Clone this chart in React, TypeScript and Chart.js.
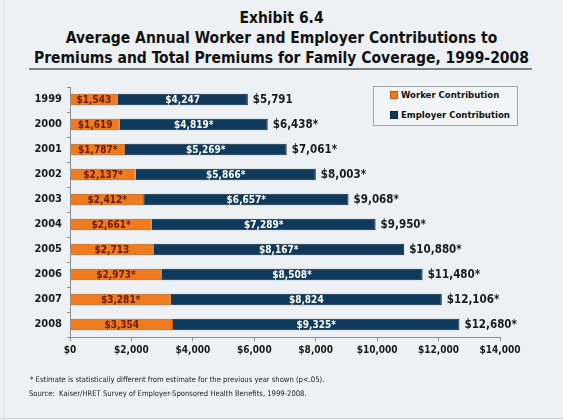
import React, { useEffect, useRef } from "react";
import { Chart, registerables } from "chart.js";

Chart.register(...registerables);

const years = ["1999", "2000", "2001", "2002", "2003", "2004", "2005", "2006", "2007", "2008"];
const worker = [1543, 1619, 1787, 2137, 2412, 2661, 2713, 2973, 3281, 3354];
const employer = [4247, 4819, 5269, 5866, 6657, 7289, 8167, 8508, 8824, 9325];
const total = [5791, 6438, 7061, 8003, 9068, 9950, 10880, 11480, 12106, 12680];
const workerSig = [false, false, true, true, true, true, false, true, true, false];
const employerSig = [false, true, true, true, true, true, true, true, false, true];
const totalSig = [false, true, true, true, true, true, true, true, true, true];
const xTicks = [0, 2000, 4000, 6000, 8000, 10000, 12000, 14000];

const FONT = '"DejaVu Sans Condensed", "DejaVu Sans", sans-serif';
const ORANGE = "#f07a1e";
const ORANGE_EDGE = "#b8560e";
const NAVY = "#0f3a5c";
const NAVY_EDGE = "#0a2740";
const BG = "#edf1f3";

const money = (v: number) => "$" + v.toLocaleString("en-US");

const labelPlugin = {
  id: "barLabels",
  afterDatasetsDraw(chart: any) {
    const ctx = chart.ctx;
    ctx.save();
    ctx.textBaseline = "middle";
    const m0 = chart.getDatasetMeta(0);
    const m1 = chart.getDatasetMeta(1);
    m0.data.forEach((bar: any, i: number) => {
      ctx.font = `bold 10px ${FONT}`;
      ctx.textAlign = "center";
      ctx.fillStyle = "#6a1c00";
      ctx.fillText(money(worker[i]) + (workerSig[i] ? "*" : ""), (bar.base + bar.x) / 2, bar.y + 0.5);
    });
    m1.data.forEach((bar: any, i: number) => {
      ctx.font = `bold 10px ${FONT}`;
      ctx.textAlign = "center";
      ctx.fillStyle = "#ffffff";
      ctx.fillText(money(employer[i]) + (employerSig[i] ? "*" : ""), (bar.base + bar.x) / 2, bar.y + 0.5);
      ctx.font = `bold 11.5px ${FONT}`;
      ctx.textAlign = "left";
      ctx.fillStyle = "#1a1a1a";
      ctx.fillText(money(total[i]) + (totalSig[i] ? "*" : ""), bar.x + 5, bar.y + 0.5);
    });
    ctx.restore();
  },
};

export default function App() {
  const ref = useRef<HTMLCanvasElement>(null);
  useEffect(() => {
    document.body.style.margin = "0";
    const chart = new Chart(ref.current!, {
      type: "bar",
      data: {
        labels: years,
        datasets: [
          {
            label: "Worker Contribution",
            data: worker,
            backgroundColor: ORANGE,
            borderColor: ORANGE_EDGE,
            borderWidth: 1,
            barPercentage: 0.46,
            categoryPercentage: 1,
          },
          {
            label: "Employer Contribution",
            data: employer,
            backgroundColor: NAVY,
            borderColor: NAVY_EDGE,
            borderWidth: 1,
            barPercentage: 0.46,
            categoryPercentage: 1,
          },
        ],
      },
      options: {
        indexAxis: "y",
        responsive: false,
        animation: false,
        layout: { padding: { left: 0, right: 63, top: 87, bottom: 0 } },
        plugins: { legend: { display: false }, tooltip: { enabled: false }, title: { display: false } },
        scales: {
          x: {
            stacked: true,
            min: 0,
            max: 14000,
            afterFit: (s: any) => {
              s.height = 83;
            },
            afterBuildTicks: (s: any) => {
              s.ticks = xTicks.map((v) => ({ value: v }));
            },
            grid: { drawOnChartArea: false, tickLength: 4, color: "#8a8f94" },
            border: { color: "#8a8f94" },
            ticks: {
              padding: 3,
              color: "#1a1a1a",
              font: { family: FONT, size: 10, weight: "bold" },
              callback: (v: any) => money(Number(v)),
            },
          },
          y: {
            stacked: true,
            afterFit: (s: any) => {
              s.width = 70;
            },
            grid: { drawOnChartArea: false, tickLength: 3, color: "#8a8f94", offset: true },
            border: { color: "#8a8f94" },
            ticks: {
              padding: 5,
              color: "#1a1a1a",
              font: { family: FONT, size: 11, weight: "bold" },
            },
          },
        },
      },
      plugins: [labelPlugin],
    } as any);
    return () => chart.destroy();
  }, []);

  const legendItem = (color: string, edge: string, text: string, top: number) => (
    <div style={{ position: "absolute", left: 16, top, display: "flex", alignItems: "center" }}>
      <span style={{ display: "inline-block", width: 6, height: 6, background: color, border: `1px solid ${edge}`, marginRight: 3 }} />
      <span>{text}</span>
    </div>
  );

  return (
    <div style={{ position: "fixed", left: 0, top: 0, width: 563, height: 420, background: BG, fontFamily: FONT, overflow: "hidden" }}>
      <div style={{ position: "absolute", left: 3, top: 0, width: 1, height: 418, background: "#dde2e5" }} />
      <div style={{ position: "absolute", left: 0, top: 418, width: 563, height: 1, background: "#cfd5d9" }} />
      <div style={{ position: "absolute", left: 0, top: 8, width: 563, textAlign: "center", fontWeight: "bold", fontSize: 15.5, lineHeight: "20px", color: "#111" }}>
        <div>Exhibit 6.4</div>
        <div>Average Annual Worker and Employer Contributions to</div>
        <div>Premiums and Total Premiums for Family Coverage, 1999-2008</div>
      </div>
      <div style={{ position: "absolute", left: 29, top: 68, width: 503, height: 2, background: "#7d8287" }} />
      <canvas ref={ref} width={563} height={420} style={{ position: "absolute", left: 0, top: 0 }} />
      <div style={{ position: "absolute", left: 373, top: 86, width: 143, height: 38, border: "1px solid #a0a5a9", background: "#f2f5f6", fontSize: 9.5, fontWeight: "bold", color: "#111" }}>
        {legendItem(ORANGE, ORANGE_EDGE, "Worker Contribution", 2)}
        {legendItem(NAVY, NAVY_EDGE, "Employer Contribution", 22)}
      </div>
      <div style={{ position: "absolute", left: 30, top: 375, fontSize: 7.6, color: "#222", whiteSpace: "nowrap" }}>
        * Estimate is statistically different from estimate for the previous year shown (p&lt;.05).
      </div>
      <div style={{ position: "absolute", left: 29, top: 389, fontSize: 7.6, color: "#222", whiteSpace: "nowrap" }}>
        Source:&nbsp; Kaiser/HRET Survey of Employer-Sponsored Health Benefits, 1999-2008.
      </div>
    </div>
  );
}
